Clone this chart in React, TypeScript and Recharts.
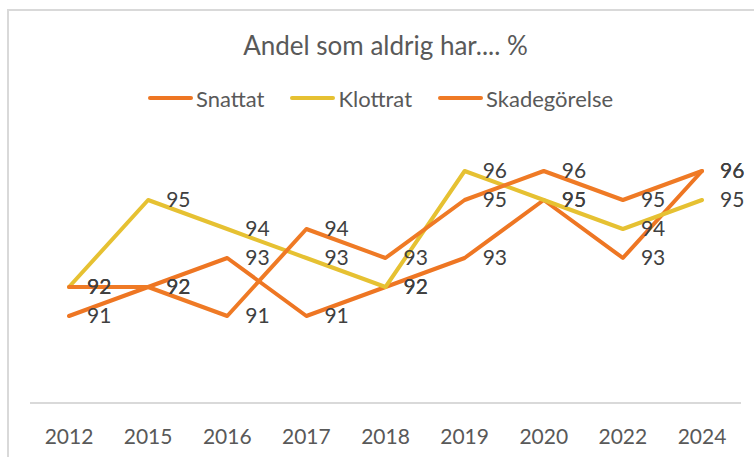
import { LineChart, Line, XAxis, YAxis, LabelList } from "recharts";

const years = ["2012", "2015", "2016", "2017", "2018", "2019", "2020", "2022", "2024"];
const snattat = [91, 92, 93, 91, 92, 93, 95, 93, 96];
const klottrat = [92, 95, 94, 93, 92, 96, 95, 94, 95];
const skadegorelse = [92, 92, 91, 94, 93, 95, 96, 95, 96];

const ORANGE = "#EE7623";
const ORANGE2 = "#EF7A25";
const YELLOW = "#E6C132";
const FONT = "Lato, 'Open Sans', sans-serif";

const series = [
  { key: "snattat", name: "Snattat", color: ORANGE },
  { key: "klottrat", name: "Klottrat", color: YELLOW },
  { key: "skadegorelse", name: "Skadegörelse", color: ORANGE2 },
];

const data = years.map((y, i) => ({
  year: y,
  snattat: snattat[i],
  klottrat: klottrat[i],
  skadegorelse: skadegorelse[i],
}));

export default function App() {
  return (
    <div style={{ position: "absolute", left: 0, top: 0, width: 754, height: 457, overflow: "hidden", background: "#fff", fontFamily: FONT }}>
      {/* chart frame, cropped on the right and bottom */}
      <div style={{ position: "absolute", left: 7, top: 9, width: 900, height: 600, border: "2px solid #d9d9d9", boxSizing: "border-box" }} />
      <div style={{ position: "absolute", left: 0, width: 771, top: 27, textAlign: "center", fontSize: 26, color: "#595959", lineHeight: "36px" }}>
        Andel som aldrig har.... %
      </div>
      <div style={{ position: "absolute", top: 83, left: 148, height: 30, display: "flex", alignItems: "center", fontSize: 22, color: "#595959" }}>
        {series.map((s) => (
          <div key={s.key} style={{ display: "flex", alignItems: "center", marginRight: 26 }}>
            <div style={{ width: 45, height: 4, borderRadius: 2, background: s.color, marginRight: 3 }} />
            <span>{s.name}</span>
          </div>
        ))}
      </div>
      <LineChart width={754} height={457} data={data} margin={{ top: 113, right: 13, left: 30, bottom: 0 }} style={{ position: "absolute", left: 0, top: 0 }}>
        <XAxis
          dataKey="year"
          height={54}
          padding={{ left: 39, right: 39 }}
          axisLine={{ stroke: "#d9d9d9", strokeWidth: 2 }}
          tickLine={false}
          tickMargin={20}
          tick={{ fontSize: 21, fill: "#595959", fontFamily: FONT }}
          interval={0}
        />
        <YAxis hide domain={[88, 98]} />
        {series.map((s) => (
          <Line
            key={s.key}
            dataKey={s.key}
            name={s.name}
            stroke={s.color}
            strokeWidth={4}
            strokeLinejoin="round"
            strokeLinecap="round"
            dot={false}
            activeDot={false}
            isAnimationActive={false}
          >
            <LabelList dataKey={s.key} position="right" offset={18} fill="#404040" fontSize={21} fontFamily={FONT} />
          </Line>
        ))}
      </LineChart>
    </div>
  );
}
